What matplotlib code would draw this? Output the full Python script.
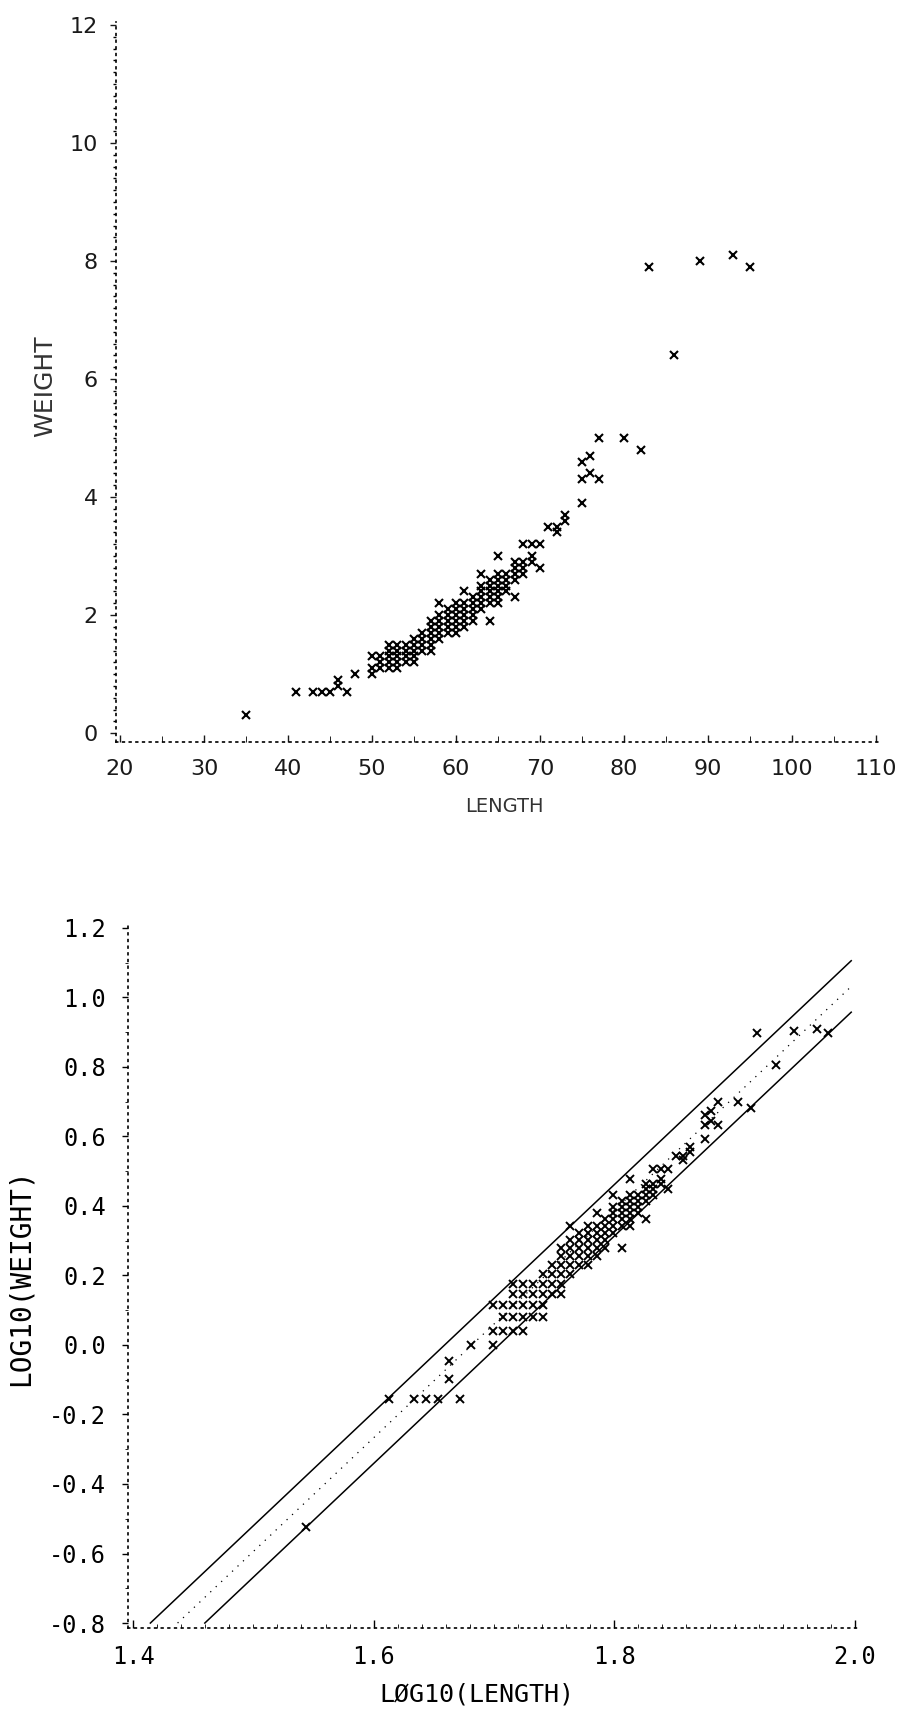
import numpy as np
import matplotlib.pyplot as plt
from matplotlib.ticker import MultipleLocator

# fish length (cm) and weight (kg)
length_cm = [35, 41, 43, 44, 45, 46, 46, 47, 48,
             50, 50, 50,
             51, 51, 51,
             52, 52, 52, 52, 52,
             53, 53, 53, 53, 53,
             54, 54, 54, 54,
             55, 55, 55, 55, 55,
             56, 56, 56, 56,
             57, 57, 57, 57, 57, 57,
             58, 58, 58, 58, 58, 58,
             59, 59, 59, 59, 59,
             60, 60, 60, 60, 60, 60,
             61, 61, 61, 61, 61, 61,
             62, 62, 62, 62, 62,
             63, 63, 63, 63, 63, 63,
             64, 64, 64, 64, 64, 64,
             65, 65, 65, 65, 65, 65, 65,
             66, 66, 66, 66,
             67, 67, 67, 67, 67,
             68, 68, 68, 68,
             69, 69, 69,
             70, 70,
             71, 72, 72, 73, 73,
             75, 75, 75, 76, 76, 77, 77,
             80, 82, 83, 86, 89, 93, 95]

weight_kg = [0.3, 0.7, 0.7, 0.7, 0.7, 0.8, 0.9, 0.7, 1.0,
             1.0, 1.1, 1.3,
             1.1, 1.2, 1.3,
             1.1, 1.2, 1.3, 1.4, 1.5,
             1.1, 1.2, 1.3, 1.4, 1.5,
             1.2, 1.3, 1.4, 1.5,
             1.2, 1.3, 1.4, 1.5, 1.6,
             1.4, 1.5, 1.6, 1.7,
             1.4, 1.5, 1.6, 1.7, 1.8, 1.9,
             1.6, 1.7, 1.8, 1.9, 2.0, 2.2,
             1.7, 1.8, 1.9, 2.0, 2.1,
             1.7, 1.8, 1.9, 2.0, 2.1, 2.2,
             1.8, 1.9, 2.0, 2.1, 2.2, 2.4,
             1.9, 2.0, 2.1, 2.2, 2.3,
             2.1, 2.2, 2.3, 2.4, 2.5, 2.7,
             1.9, 2.2, 2.3, 2.4, 2.5, 2.6,
             2.2, 2.3, 2.4, 2.5, 2.6, 2.7, 3.0,
             2.4, 2.5, 2.6, 2.7,
             2.3, 2.6, 2.7, 2.8, 2.9,
             2.7, 2.8, 2.9, 3.2,
             2.9, 3.0, 3.2,
             2.8, 3.2,
             3.5, 3.4, 3.5, 3.6, 3.7,
             3.9, 4.3, 4.6, 4.4, 4.7, 4.3, 5.0,
             5.0, 4.8, 7.9, 6.4, 8.0, 8.1, 7.9]

# regression of log10(weight) on log10(length) and its band
fit_slope = 3.27
fit_intercept = -5.499
band_half = 0.074

log_length = np.log10(length_cm)
log_weight = np.log10(weight_kg)

fig = plt.figure(figsize=(9.01, 17.10), dpi=100)
ax1 = fig.add_axes([0.1285, 0.5661, 0.8465, 0.421])
ax2 = fig.add_axes([0.1421, 0.048, 0.8124, 0.4129])

ink = "#1a1a1a"

# ---- upper: weight vs length
ax1.plot(length_cm, weight_kg, "x", color="black", ms=6, mew=1.5)
ax1.set_xlim(19.5, 110.3)
ax1.set_ylim(-0.15, 12.05)
ax1.xaxis.set_major_locator(MultipleLocator(10))
ax1.xaxis.set_minor_locator(MultipleLocator(5))
ax1.yaxis.set_major_locator(MultipleLocator(2))
ax1.yaxis.set_minor_locator(MultipleLocator(0.2))
ax1.set_xticks(range(20, 111, 10))
ax1.set_xticklabels([str(v) for v in range(20, 111, 10)])
ax1.set_yticks(range(0, 13, 2))
ax1.set_yticklabels([str(v) for v in range(0, 13, 2)])
for lab in ax1.get_xticklabels() + ax1.get_yticklabels():
    lab.set_fontfamily("DejaVu Sans")
ax1.tick_params(labelsize=16, colors=ink, width=1.0)
ax1.tick_params(axis="y", which="major", direction="out", length=4, pad=9)
ax1.tick_params(axis="y", which="minor", direction="out", length=2, width=1.0)
ax1.tick_params(axis="x", which="major", direction="in", length=5, pad=12)
ax1.tick_params(axis="x", which="minor", direction="in", length=4)
ax1.set_ylabel("WEIGHT", fontsize=18, color="#333333", family="DejaVu Sans")
ax1.yaxis.set_label_coords(-0.077, 0.494)
ax1.text(0.51, -0.089, "LENGTH", transform=ax1.transAxes, fontsize=14,
         color="#333333", ha="center", va="center", family="DejaVu Sans")

# ---- lower: log10 weight vs log10 length
ax2.plot(log_length, log_weight, "x", color="black", ms=6, mew=1.4)
x_end = 1.997
for off, ls, lw in [(band_half, "-", 1.1), (0.0, (0, (1, 5)), 0.9), (-band_half, "-", 1.1)]:
    b = fit_intercept + off
    x0 = (-0.8 - b) / fit_slope
    xs = np.array([x0, x_end])
    ax2.plot(xs, fit_slope * xs + b, color="black", ls=ls, lw=lw)
ax2.set_xlim(1.3958, 2.0043)
ax2.set_ylim(-0.814, 1.217)
ax2.set_xticks([1.4, 1.6, 1.8, 2.0])
ax2.set_xticklabels(["1.4", "1.6", "1.8", "2.0"])
ax2.set_yticks([1.2, 1.0, 0.8, 0.6, 0.4, 0.2, 0.0, -0.2, -0.4, -0.6, -0.8])
ax2.set_yticklabels(["1.2", "1.0", "0.8", "0.6", "0.4", "0.2", "0.0",
                     "-0.2", "-0.4", "-0.6", "-0.8"])
ax2.xaxis.set_minor_locator(MultipleLocator(0.02))
ax2.yaxis.set_minor_locator(MultipleLocator(0.1))
for lab in ax2.get_xticklabels() + ax2.get_yticklabels():
    lab.set_fontfamily("DejaVu Sans Mono")
ax2.tick_params(labelsize=17, colors="black", width=1.0)
ax2.tick_params(axis="y", which="major", direction="out", length=4, pad=12)
ax2.tick_params(axis="y", which="minor", direction="out", length=2)
ax2.tick_params(axis="x", which="major", direction="in", length=6, pad=12)
ax2.tick_params(axis="x", which="minor", direction="in", length=3)
ax2.set_ylabel("LOG10(WEIGHT)", fontsize=20, color="black", family="DejaVu Sans Mono")
ax2.yaxis.set_label_coords(-0.127, 0.497)
ax2.text(0.477, -0.095, "LØG10(LENGTH)", transform=ax2.transAxes, fontsize=18,
         color="black", ha="center", va="center", family="DejaVu Sans Mono")

for ax in (ax1, ax2):
    ax.spines["top"].set_visible(False)
    ax.spines["right"].set_visible(False)
    for side in ("left", "bottom"):
        ax.spines[side].set_linestyle((0, (1, 3)))
        ax.spines[side].set_linewidth(1.2)
        ax.spines[side].set_color("black")

fig.savefig("out.png", dpi=100)
